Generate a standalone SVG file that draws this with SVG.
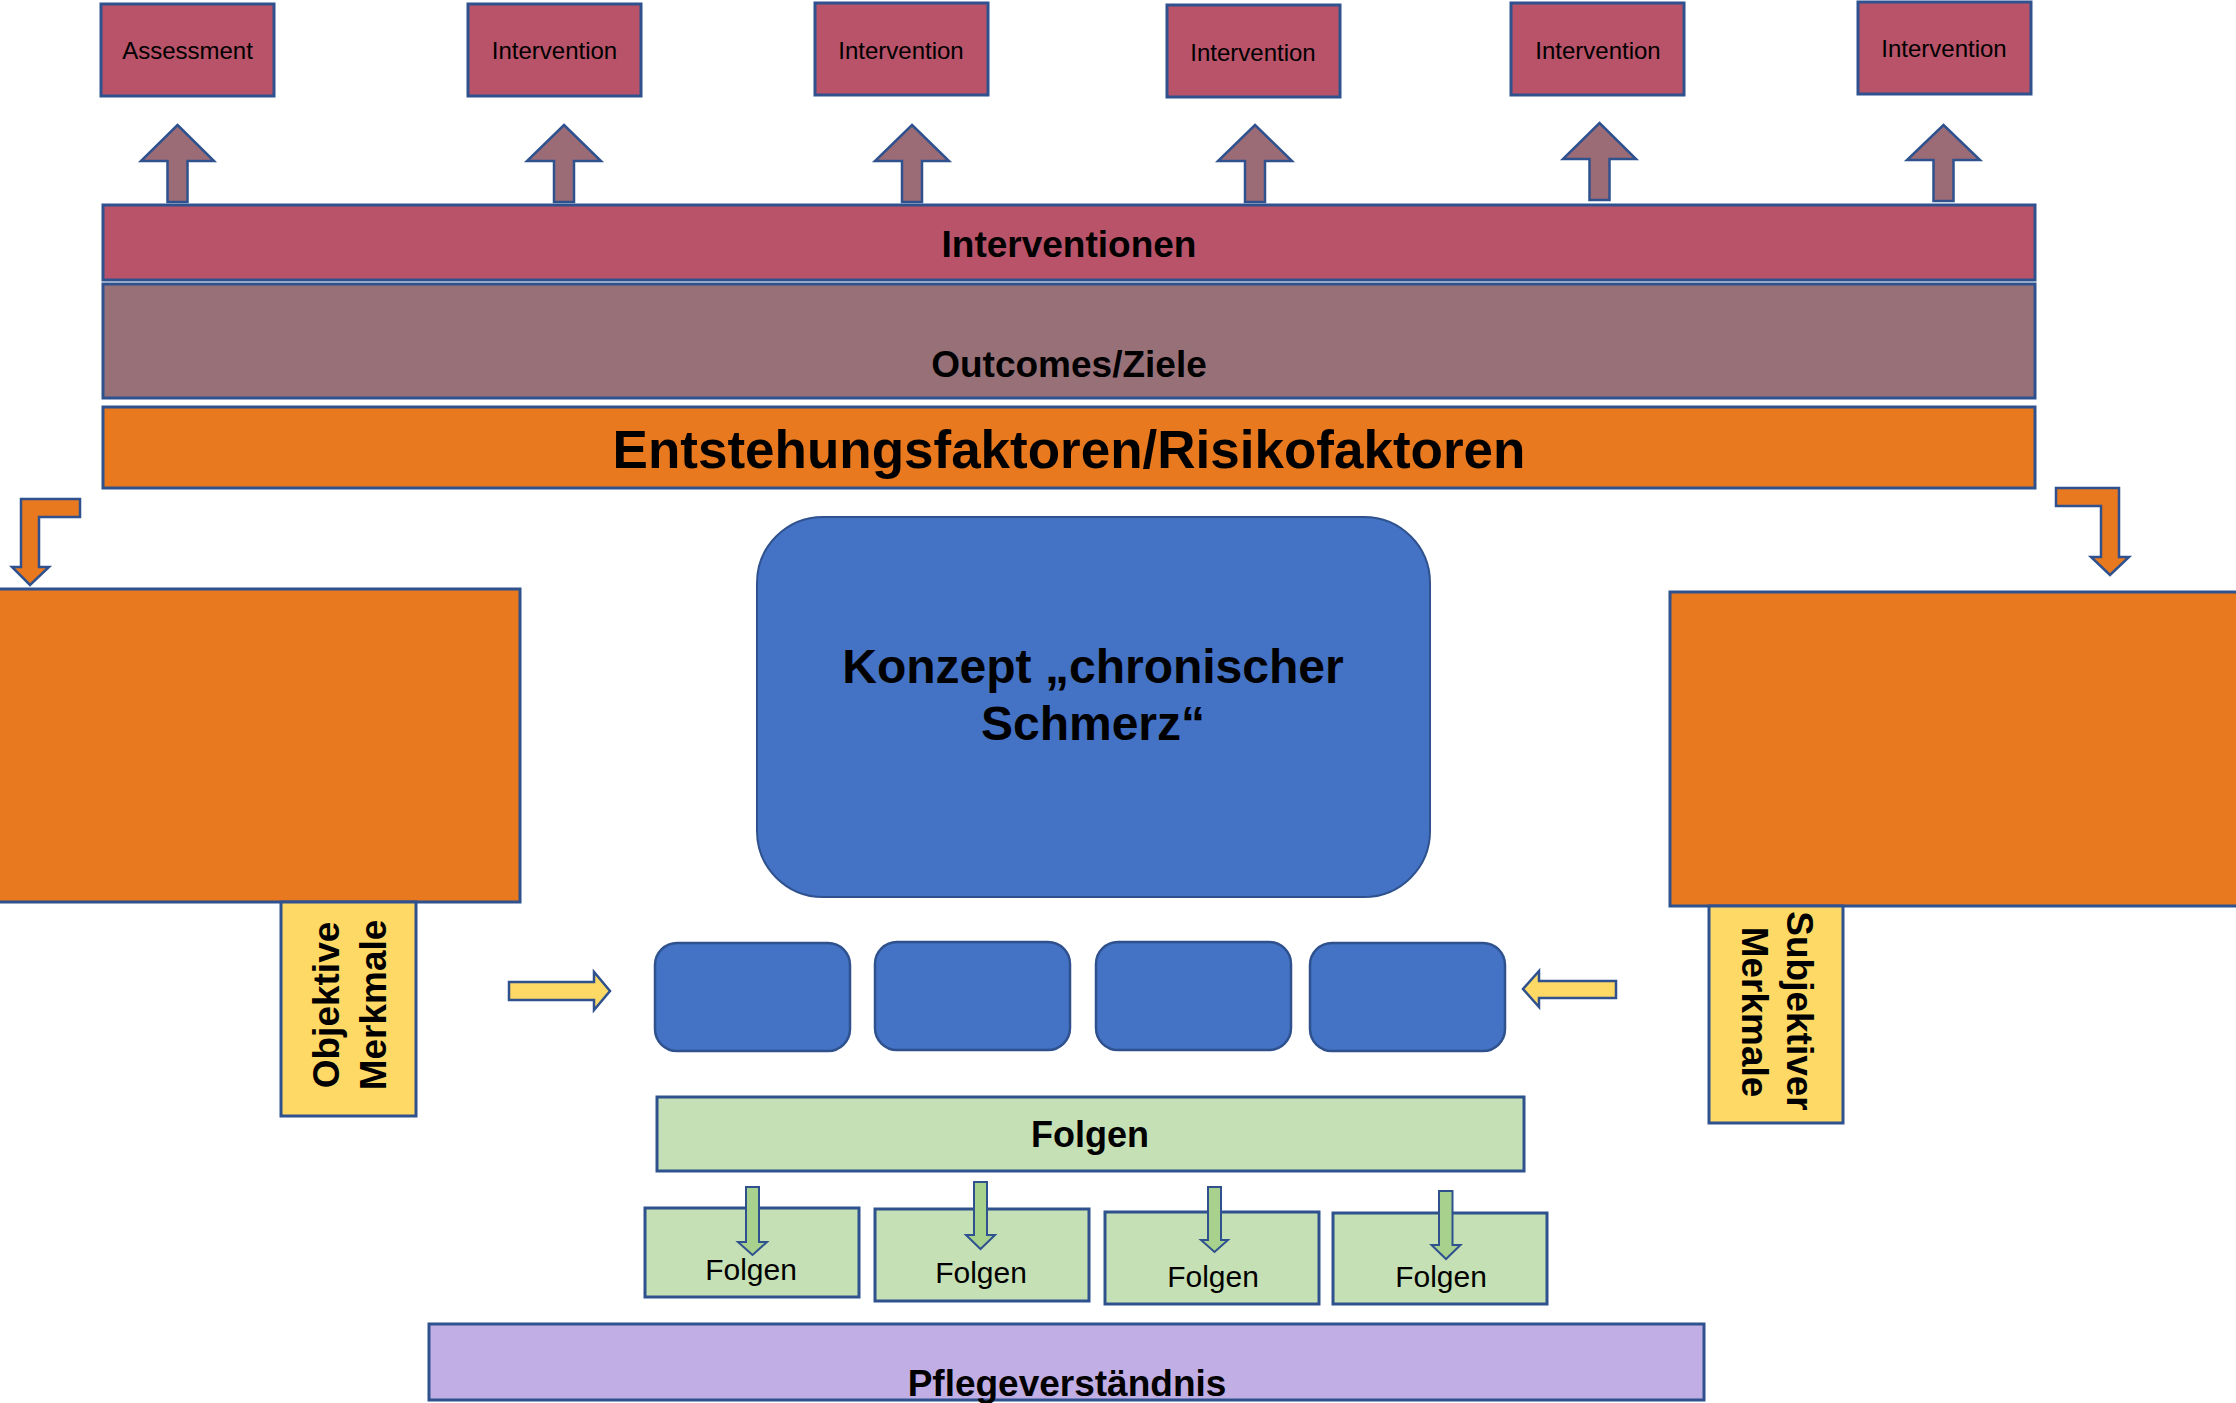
<svg xmlns="http://www.w3.org/2000/svg" width="2236" height="1403" viewBox="0 0 2236 1403">
<style>
text{font-family:"Liberation Sans",Arial,sans-serif;fill:#000;text-anchor:middle}
.b{font-weight:bold}
.ol{stroke:#2F528F;stroke-width:3}
.rose{fill:#B85369}
.mauve{fill:#9C6C76}
.outc{fill:#987178}
.org{fill:#E8791F}
.blue{fill:#4472C4}
.yel{fill:#FFD966}
.grn{fill:#C5E0B4}
.garr{fill:#A9D18E;stroke:#2F528F;stroke-width:2}
.pur{fill:#C1AEE4}
</style>
<rect width="2236" height="1403" fill="#fff"/>
<g id="top-boxes">
<g id="assessment"><rect class="rose ol" x="101" y="4" width="173" height="92"/><text x="187.5" y="59" font-size="24">Assessment</text></g>
<g id="intervention1"><rect class="rose ol" x="468" y="4" width="173" height="92"/><text x="554.5" y="59" font-size="24">Intervention</text></g>
<g id="intervention2"><rect class="rose ol" x="815" y="3" width="173" height="92"/><text x="901" y="58.5" font-size="24">Intervention</text></g>
<g id="intervention3"><rect class="rose ol" x="1167" y="5" width="173" height="92"/><text x="1253" y="60.5" font-size="24">Intervention</text></g>
<g id="intervention4"><rect class="rose ol" x="1511" y="3" width="173" height="92"/><text x="1598" y="58.5" font-size="24">Intervention</text></g>
<g id="intervention5"><rect class="rose ol" x="1858" y="2" width="173" height="92"/><text x="1944" y="57" font-size="24">Intervention</text></g>
</g>
<g id="interventionen"><rect class="rose ol" x="103" y="205" width="1932" height="75"/><text class="b" x="1069" y="256.5" font-size="37">Interventionen</text></g>
<g id="outcomes"><rect class="outc ol" x="103" y="284" width="1932" height="114"/><text class="b" x="1069" y="377" font-size="37">Outcomes/Ziele</text></g>
<g id="entstehung"><rect class="org ol" x="103" y="407" width="1932" height="81"/><text class="b" x="1069" y="468" font-size="53">Entstehungsfaktoren/Risikofaktoren</text></g>
<g id="left-orange"><rect class="org ol" x="-2" y="589" width="522" height="313"/></g>
<g id="right-orange"><rect class="org ol" x="1670" y="592" width="570" height="314"/></g>
<g id="objektive"><rect class="yel ol" x="281" y="902" width="135" height="214"/><text class="b" font-size="37" transform="translate(338.5,1005) rotate(-90)">Objektive</text><text class="b" font-size="37" transform="translate(385.5,1005) rotate(-90)">Merkmale</text></g>
<g id="subjektiver"><rect class="yel ol" x="1709" y="906" width="134" height="217"/><text class="b" font-size="37" transform="translate(1786.5,1011) rotate(90)">Subjektiver</text><text class="b" font-size="37" transform="translate(1741.5,1012) rotate(90)">Merkmale</text></g>
<g id="konzept"><rect class="blue" stroke="#2F528F" stroke-width="2" x="757" y="517" width="673" height="380" rx="66" ry="66"/><text class="b" x="1093" y="683" font-size="48">Konzept „chronischer</text><text class="b" x="1093" y="740" font-size="48">Schmerz“</text></g>
<g id="blue1"><rect class="blue" stroke="#2F528F" stroke-width="2.5" x="655" y="943" width="195" height="108" rx="22"/></g>
<g id="blue2"><rect class="blue" stroke="#2F528F" stroke-width="2.5" x="875" y="942" width="195" height="108" rx="22"/></g>
<g id="blue3"><rect class="blue" stroke="#2F528F" stroke-width="2.5" x="1096" y="942" width="195" height="108" rx="22"/></g>
<g id="blue4"><rect class="blue" stroke="#2F528F" stroke-width="2.5" x="1310" y="943" width="195" height="108" rx="22"/></g>
<g id="folgen-main"><rect class="grn ol" x="657" y="1097" width="867" height="74"/><text class="b" x="1090" y="1147" font-size="36">Folgen</text></g>
<g id="folgen1"><rect class="grn ol" x="645" y="1208" width="214" height="89"/><text x="751" y="1280" font-size="30">Folgen</text></g>
<g id="folgen2"><rect class="grn ol" x="875" y="1209" width="214" height="92"/><text x="981" y="1283" font-size="30">Folgen</text></g>
<g id="folgen3"><rect class="grn ol" x="1105" y="1212" width="214" height="92"/><text x="1213" y="1286.5" font-size="30">Folgen</text></g>
<g id="folgen4"><rect class="grn ol" x="1333" y="1213" width="214" height="91"/><text x="1441" y="1286.5" font-size="30">Folgen</text></g>
<g id="pflege"><rect class="pur ol" x="429" y="1324" width="1275" height="76"/><text class="b" x="1067" y="1396" font-size="37">Pflegeverständnis</text></g>
<g id="connectors">
<g class="mauve" stroke="#2F528F" stroke-width="2.5" stroke-linejoin="miter">
<polygon points="177.5,125 214,161 187.5,161 187.5,202 167.5,202 167.5,161 141,161"/>
<polygon points="564,125 601,161 574,161 574,202 554,202 554,161 527,161"/>
<polygon points="912,125 949,161 922,161 922,202 902,202 902,161 875,161"/>
<polygon points="1255,125 1292,161 1265,161 1265,202 1245,202 1245,161 1218,161"/>
<polygon points="1599.5,123 1636,159 1609.5,159 1609.5,200 1589.5,200 1589.5,159 1563,159"/>
<polygon points="1943.5,125 1980,160 1953.5,160 1953.5,201 1933.5,201 1933.5,160 1907,160"/>
</g>
<g class="org" stroke="#2F528F" stroke-width="2.5">
<polygon points="21,499 80,499 80,517 39,517 39,567 49,567 30,585 12,567 21,567"/>
<polygon points="2056,488 2119,488 2119,557 2129,557 2110,575 2091,557 2101,557 2101,506 2056,506"/>
</g>
<g class="yel" stroke="#2F528F" stroke-width="2.5">
<polygon points="509,982 594,982 594,972 610,991 594,1010 594,1000 509,1000"/>
<polygon points="1616,981 1539,981 1539,971 1523,989 1539,1007 1539,998 1616,998"/>
</g>
<polygon class="garr" points="746,1187 759,1187 759,1242 767,1242 752.5,1255 738,1242 746,1242"/>
<polygon class="garr" points="974,1182 987,1182 987,1235 995,1235 980.5,1249 966,1235 974,1235"/>
<polygon class="garr" points="1208,1187 1221,1187 1221,1240 1228,1240 1214.5,1252 1201,1240 1208,1240"/>
<polygon class="garr" points="1439,1191 1452.5,1191 1452.5,1245 1460.5,1245 1446,1259 1431.5,1245 1439,1245"/>
</g>
</svg>
